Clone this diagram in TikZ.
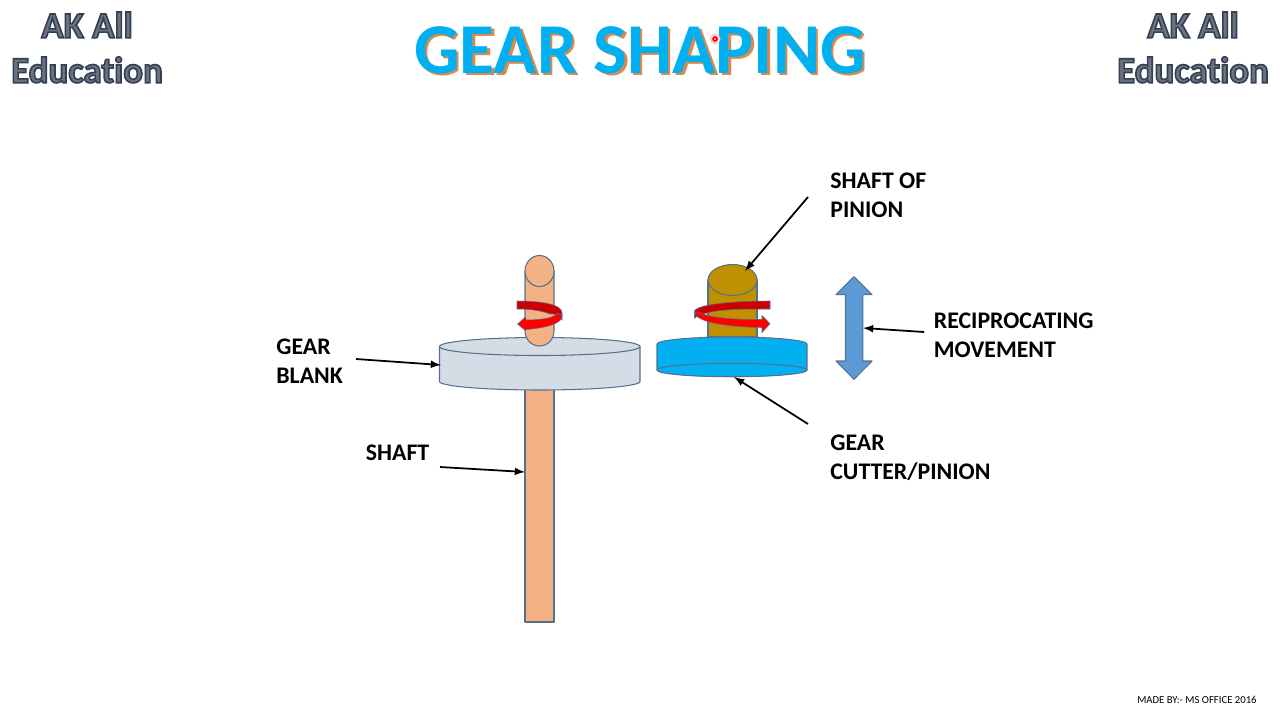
\documentclass[tikz,border=0pt]{standalone}
\usepackage{fontspec}
\setmainfont[Ligatures=NoCommon]{Carlito}
\usepackage{tikz}

\definecolor{shaftfill}{HTML}{F4B183}
\definecolor{blankfill}{HTML}{D6DCE5}
\definecolor{pinionfill}{HTML}{BF9000}
\definecolor{cutterfill}{HTML}{00B0F0}
\definecolor{movefill}{HTML}{5B9BD5}
\definecolor{edgeblue}{HTML}{54708F}
\definecolor{markgray}{HTML}{6B7280}
\definecolor{titleshade}{HTML}{DB8A4C}

\newcommand{\outlined}[1]{\special{pdf:code q 0.2 0.25 0.33 RG 0.9 w 2 Tr}#1\special{pdf:code 0 Tr Q}}

\tikzset{
    part/.style={draw=edgeblue, line width=0.6pt, line join=round},
    leader/.style={draw=black, line width=1pt, -latex},
    label/.style={anchor=west, align=left, font=\fontsize{13.55}{16.3}\selectfont\bfseries, inner sep=0pt},
    brand/.style={align=center, font=\fontsize{21}{25.5}\selectfont\bfseries, text=markgray, inner sep=0pt},
    heading/.style={font=\fontsize{40.7}{42}\selectfont\bfseries, inner sep=0pt},
}

\begin{document}
\begin{tikzpicture}[x=0.02cm, y=-0.02cm]
    \useasboundingbox (0, 0) rectangle (1280, 720);

    % headings
    \node[brand] (brandleft) at (87, 47.5) {\outlined{AK All}\\\outlined{Education}};
    \node[brand] (brandright) at (1193, 47.5) {\outlined{AK All}\\\outlined{Education}};
    \node[heading, text=titleshade] (headingshade) at (642.5, 52.5) {GEAR SHAPING};
    \node[heading, text=cutterfill] (heading) at (640, 50) {GEAR SHAPING};
    \fill[red!20] (715, 39) circle (5.5);
    \draw[red, line width=0.9pt, fill=red!30] (715, 39) circle (2);
    \node[anchor=east, inner sep=0pt, font=\fontsize{6.1}{7}\selectfont] (madeby) at (1257, 700) {MADE BY:- MS OFFICE 2016};

    % workpiece
    \draw[part, fill=shaftfill] (525, 389) rectangle (554, 622);
    \draw[part, fill=blankfill] (439.5, 346.5) -- (439.5, 381.5) arc (180:360:100.25 and -8.5) -- (640, 346.5) -- cycle;
    \draw[part, fill=blankfill] (539.75, 346.5) ellipse (100.25 and 9);
    \draw[part, fill=shaftfill] (525, 271) -- (525, 331) arc (180:360:14.5 and -15) -- (554, 271) -- cycle;
    \draw[part, fill=shaftfill] (539.5, 271) ellipse (14.5 and 15.5);

    % rotation of workpiece
    \draw[line width=0.3pt, draw=edgeblue, fill=red!80!black] (517, 301) .. controls (540, 301) and (562, 304) .. (562, 313) -- (562, 320) .. controls (560, 316) and (555, 313) .. (550, 314) .. controls (540, 310) and (528, 309) .. (517, 309) -- cycle;
    \draw[line width=0.3pt, draw=edgeblue, fill=red] (562, 316) .. controls (562, 324) and (545, 328) .. (526, 329.5) -- (525.5, 330.5) -- (517.5, 324) -- (525.5, 317) -- (526, 320) .. controls (540, 320) and (555, 318) .. (558, 313) -- cycle;

    % cutter
    \draw[part, fill=pinionfill] (708, 280) rectangle (757, 337);
    \draw[part, fill=pinionfill] (732.5, 280) ellipse (24.5 and 15.5);
    \draw[part, fill=cutterfill] (657, 344) arc (180:360:75 and 7) -- (807, 370) arc (360:180:75 and -6.5) -- cycle;
    \draw[part, fill=cutterfill] (732, 370) ellipse (75 and 6.7);

    % rotation of cutter
    \draw[line width=0.3pt, draw=edgeblue, fill=red!80!black] (770, 301) -- (770, 309) .. controls (745, 309) and (720, 309) .. (707, 313) .. controls (702, 314) and (698, 316) .. (694.5, 318) -- (694.5, 311) .. controls (698, 304) and (735, 301) .. (770, 301) -- cycle;
    \draw[line width=0.3pt, draw=edgeblue, fill=red] (694.5, 311) .. controls (694, 322) and (725, 327) .. (762, 327.5) -- (762, 332.5) -- (770, 323.7) -- (762, 315.5) -- (762, 319.5) .. controls (740, 319.5) and (715, 319) .. (700, 313) -- cycle;

    % reciprocating arrow
    \draw[part, fill=movefill] (854, 276.7) -- (872, 294.5) -- (862.8, 294.5) -- (862.8, 361) -- (872, 361) -- (854, 379.3) -- (836, 361) -- (845.5, 361) -- (845.5, 294.5) -- (836, 294.5) -- cycle;

    % labels
    \node[label] (shaftofpinion) at (830, 195) {SHAFT OF\\PINION};
    \node[label] (movement) at (933.5, 335) {RECIPROCATING\\MOVEMENT};
    \node[label] (cutter) at (830, 457.5) {GEAR\\CUTTER/PINION};
    \node[label] (blank) at (276, 361) {GEAR\\BLANK};
    \node[label] (shaft) at (365.5, 453) {SHAFT};

    % leaders
    \coordinate (pinionstart) at (808, 197);
    \coordinate (piniontip) at (745, 271);
    \coordinate (movestart) at (924, 332);
    \coordinate (movetip) at (863, 328);
    \coordinate (cutterstart) at (808, 424);
    \coordinate (cuttertip) at (734, 377);
    \coordinate (blankstart) at (356, 359);
    \coordinate (blanktip) at (441, 365);
    \coordinate (shaftstart) at (440, 467);
    \coordinate (shafttip) at (525, 472);
    \draw[leader] (pinionstart) -- (piniontip);
    \draw[leader] (movestart) -- (movetip);
    \draw[leader] (cutterstart) -- (cuttertip);
    \draw[leader] (blankstart) -- (blanktip);
    \draw[leader] (shaftstart) -- (shafttip);
\end{tikzpicture}
\end{document}
